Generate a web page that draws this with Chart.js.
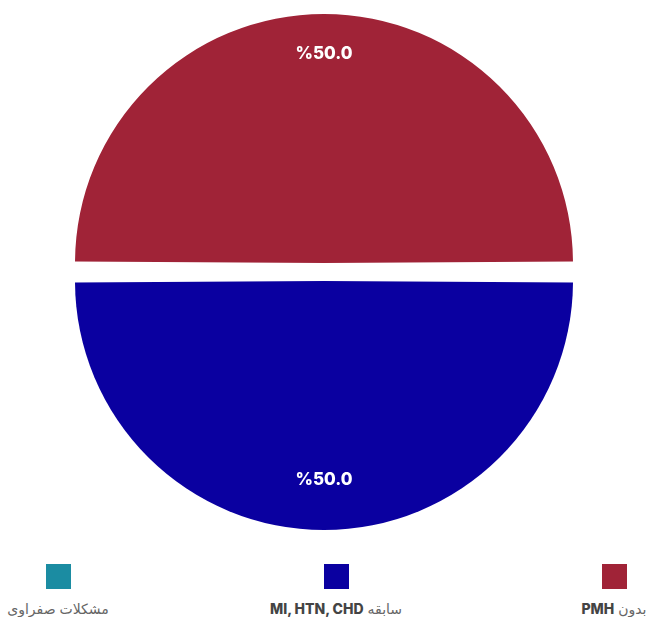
<!DOCTYPE html>
<html>
<head>
<meta charset="utf-8">
<script src="https://cdn.jsdelivr.net/npm/chart.js@4"></script>
<style>
  html, body { margin: 0; padding: 0; background: #fff; }
  body { width: 648px; height: 617px; position: relative; overflow: hidden; font-family: "Inter", "DejaVu Sans", sans-serif; }
  #chartBox { position: absolute; left: 0; top: 14px; width: 648px; height: 516px; }
  #legend { position: absolute; left: -81px; top: 564px; width: 834px; display: flex; direction: rtl; }
  .item { width: 278px; text-align: center; }
  .swatch { width: 25px; height: 25px; margin: 0 auto; }
  .text { margin-top: 11px; font-size: 14px; color: #666; white-space: nowrap; line-height: 18px; }
  .text b { color: #444; font-weight: 800; }
</style>
</head>
<body>
<div id="chartBox"><canvas id="pieChart"></canvas></div>
<div id="legend"></div>
<script>
const labels = ['بدون PMH', 'سابقه MI, HTN, CHD', 'مشکلات صفراوی'];
const values = [50, 50, 0];
const colors = ['#A02337', '#0A00A0', '#1B8CA2'];

// white labels drawn at each slice
const sliceLabels = {
    id: 'sliceLabels',
    afterDatasetsDraw(chart) {
        const ctx = chart.ctx;
        const meta = chart.getDatasetMeta(0);
        const total = values.reduce((a, b) => a + b, 0);
        ctx.save();
        ctx.font = '800 17px Inter';
        ctx.fillStyle = '#fff';
        ctx.textAlign = 'center';
        ctx.textBaseline = 'alphabetic';
        meta.data.forEach((arc, i) => {
            if (!values[i]) return;
            const p = arc.getProps(['x', 'y', 'startAngle', 'endAngle', 'outerRadius'], true);
            const mid = (p.startAngle + p.endAngle) / 2;
            const dist = p.outerRadius * 0.85 + arc.options.offset / 4;
            const pct = (values[i] / total * 100).toFixed(1);
            ctx.fillText('%' + pct, p.x + Math.cos(mid) * dist, p.y + Math.sin(mid) * dist);
        });
        ctx.restore();
    }
};

new Chart(document.getElementById('pieChart').getContext('2d'), {
    type: 'pie',
    data: {
        labels: labels,
        datasets: [{
            data: values,
            backgroundColor: colors,
            borderWidth: 0,
            offset: 36
        }]
    },
    options: {
        responsive: true,
        maintainAspectRatio: false,
        animation: false,
        rotation: -90,
        plugins: {
            legend: { display: false },
            tooltip: { enabled: false }
        }
    },
    plugins: [sliceLabels]
});

// legend below the chart, right to left
const legend = document.getElementById('legend');
labels.forEach((label, i) => {
    const item = document.createElement('div');
    item.className = 'item';
    const html = label.replace(/([A-Za-z][A-Za-z, ]*[A-Za-z])/g, '<b>$1</b>');
    item.innerHTML = `<div class="swatch" style="background:${colors[i]}"></div>
                      <div class="text">${html}</div>`;
    legend.appendChild(item);
});
</script>
</body>
</html>
